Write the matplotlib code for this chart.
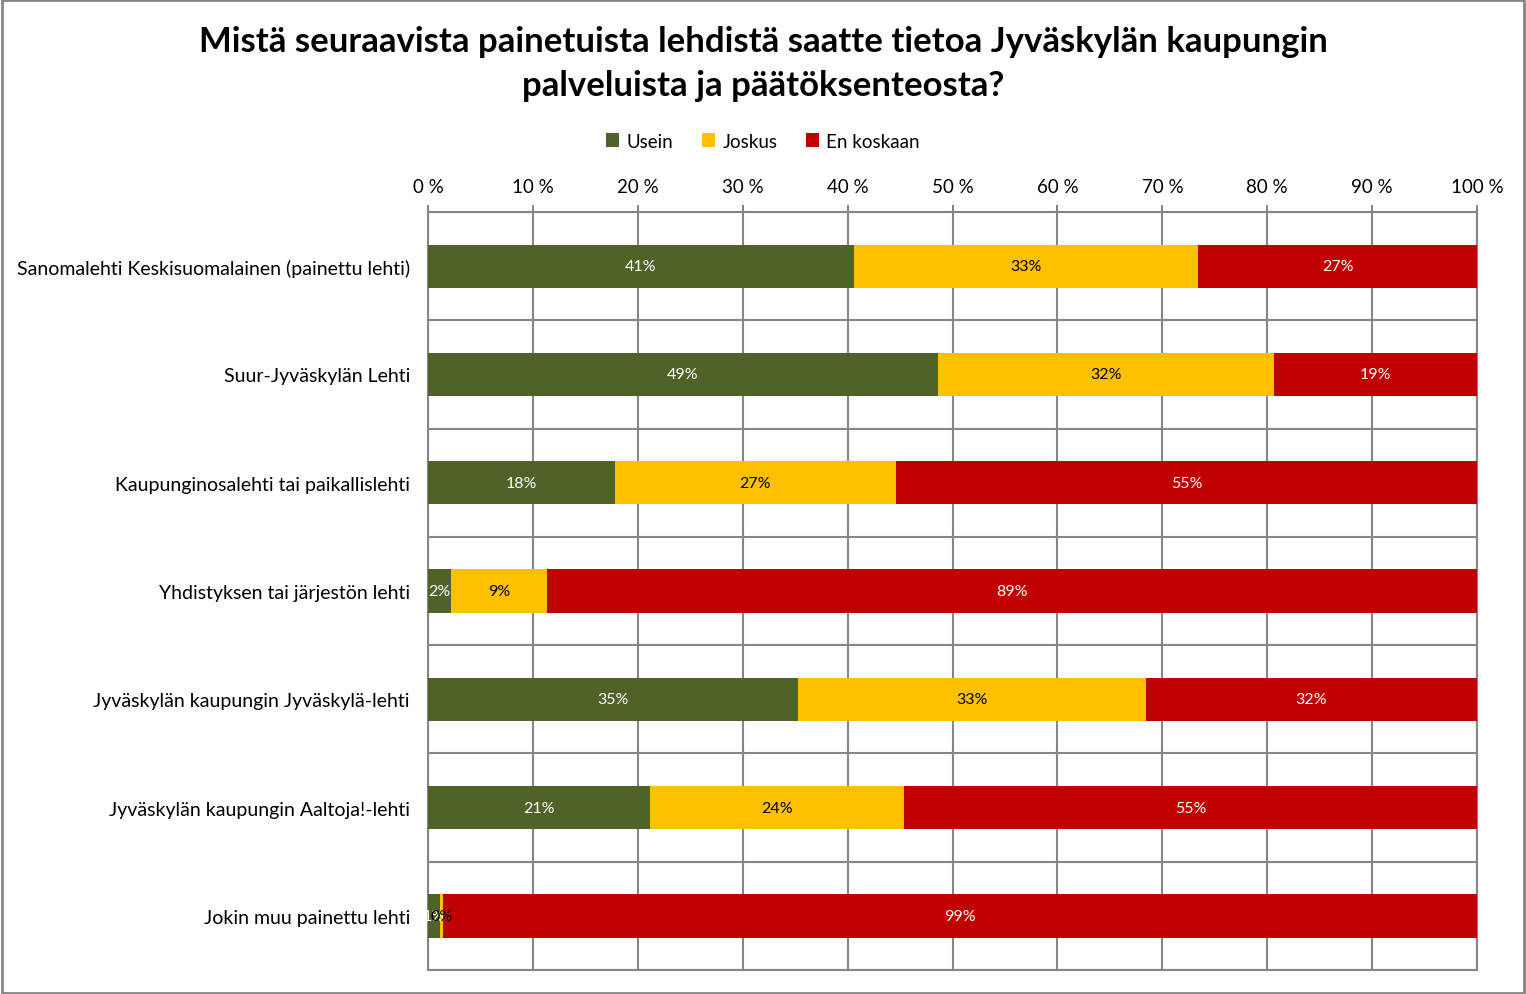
import numpy as np
import matplotlib
matplotlib.use('Agg')
import matplotlib.pyplot as plt
from matplotlib.patches import Rectangle

plt.rcParams['font.family'] = ['Lato', 'DejaVu Sans']

categories = ['Sanomalehti Keskisuomalainen (painettu lehti)',
              'Suur-Jyväskylän Lehti',
              'Kaupunginosalehti tai paikallislehti',
              'Yhdistyksen tai järjestön lehti',
              'Jyväskylän kaupungin Jyväskylä-lehti',
              'Jyväskylän kaupungin Aaltoja!-lehti',
              'Jokin muu painettu lehti']
series_names = ['Usein', 'Joskus', 'En koskaan']
usein = [40.6, 48.6, 17.8, 2.2, 35.3, 21.2, 1.1]
joskus = [32.8, 32.0, 26.8, 9.1, 33.1, 24.2, 0.3]
en_koskaan = [26.6, 19.4, 55.4, 88.7, 31.6, 54.6, 98.6]
colors = ['#4F6228', '#FFC000', '#C00000']
label_colors = ['white', 'black', 'white']
title_lines = ['Mistä seuraavista painetuista lehdistä saatte tietoa Jyväskylän kaupungin',
               'palveluista ja päätöksenteosta?']

fig = plt.figure(figsize=(15.26, 9.95), dpi=100)
ax = fig.add_axes([0.2805, 0.0241, 0.6874, 0.7618])

y = np.arange(len(categories))
left = np.zeros(len(categories))
for vals, name, col, lc in zip([usein, joskus, en_koskaan], series_names, colors, label_colors):
    vals = np.array(vals)
    ax.barh(y, vals, left=left, height=0.4, color=col, label=name, zorder=3)
    for yi, l, v in zip(y, left, vals):
        ax.text(l + v / 2, yi, '%d%%' % round(v), ha='center', va='center',
                color=lc, fontsize=11.5, zorder=4)
    left = left + vals

ax.set_xlim(0, 100)
ax.set_ylim(len(categories) - 0.5, -0.5)
ax.xaxis.tick_top()
ax.set_xticks(np.arange(0, 101, 10))
ax.set_xticklabels(['%d %%' % t for t in range(0, 101, 10)], fontsize=13.5)
ax.tick_params(axis='x', direction='out', length=5, width=1.5, color='#868686', pad=7)
ax.set_yticks(y)
ax.set_yticklabels(categories, fontsize=14)
ax.tick_params(axis='y', length=0, pad=13)
ax.set_yticks(np.arange(-0.5, len(categories), 1), minor=True)
ax.tick_params(axis='y', which='minor', length=0)
ax.grid(axis='x', which='major', color='#868686', linewidth=1.5, zorder=1)
ax.grid(axis='y', which='minor', color='#868686', linewidth=1.5, zorder=1)
for s in ax.spines.values():
    s.set_color('#868686')
    s.set_linewidth(1.5)

for line, ypix in zip(title_lines, [42, 86]):
    fig.text(0.5, 1 - ypix / 995, line, ha='center', va='center',
             fontsize=25, fontweight='bold')

fig.legend(loc='center', bbox_to_anchor=(0.5, 1 - 142 / 995), ncol=3, frameon=False,
           fontsize=13.5, handlelength=0.7, handleheight=0.7, handletextpad=0.4, columnspacing=1.5)

fig.patches.append(Rectangle((0.001, 0.001), 0.998, 0.998, transform=fig.transFigure,
                             fill=False, edgecolor='#868686', linewidth=2))

fig.savefig('out.png', dpi=100)
